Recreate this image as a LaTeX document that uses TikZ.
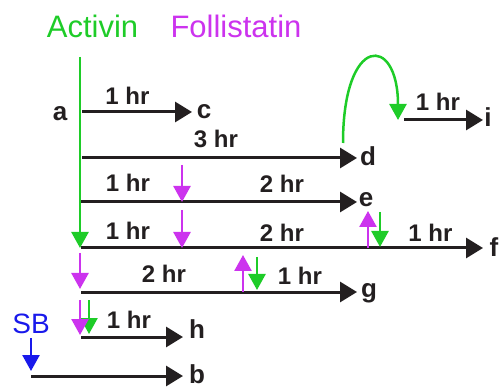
\documentclass[tikz,border=0pt]{standalone}
\usepackage{fontspec}
\setmainfont{Liberation Sans}
\usetikzlibrary{arrows.meta}
\definecolor{actgreen}{RGB}{30,204,40}
\definecolor{follmag}{RGB}{204,51,238}
\definecolor{sbblue}{RGB}{25,25,235}
\definecolor{ink}{RGB}{35,31,32}
\tikzset{
  timeline/.style={draw=ink, line width=3pt, -{Triangle[length=17pt,width=20pt]}},
  cue/.style={line width=2.5pt, -{Triangle[length=16pt,width=17pt]}},
  actcue/.style={cue, draw=actgreen},
  follcue/.style={cue, draw=follmag},
  sbcue/.style={cue, draw=sbblue},
  hrs/.style={font=\fontsize{24}{24}\selectfont\bfseries, text=ink, inner sep=0pt, anchor=base},
  tag/.style={font=\fontsize{26}{26}\selectfont\bfseries, text=ink, inner sep=0pt, anchor=base},
  factor/.style={font=\fontsize{31}{31}\selectfont, inner sep=0pt, anchor=base},
}
\begin{document}
\begin{tikzpicture}[x=1pt,y=-1pt]
\useasboundingbox (0,0) rectangle (503,387);

% factor names
\node[factor, text=actgreen] (activin) at (92.5,38) {Activin};
\node[factor, text=follmag] (follistatin) at (236,38) {Follistatin};
\node[factor, text=sbblue, font=\fontsize{28}{28}\selectfont] (sb) at (31,333) {SB};

% condition letters
\node[tag] (a) at (60,121) {a};
\node[tag] (c) at (204,119) {c};
\node[tag] (d) at (368,166) {d};
\node[tag] (i) at (488,127) {i};
\node[tag] (e) at (366,207) {e};
\node[tag] (f) at (494,257) {f};
\node[tag] (g) at (369,297) {g};
\node[tag] (h) at (197,338) {h};
\node[tag] (b) at (197,383) {b};

% line end points
\coordinate (c0) at (82,112);  \coordinate (c1) at (192,112);
\coordinate (d0) at (82,158);  \coordinate (d1) at (357,158);
\coordinate (i0) at (404,120); \coordinate (i1) at (483,120);
\coordinate (e0) at (81,202);  \coordinate (e1) at (357,202);
\coordinate (f0) at (81,248);  \coordinate (f1) at (483,248);
\coordinate (g0) at (81,292);  \coordinate (g1) at (357,292);
\coordinate (h0) at (81,337);  \coordinate (h1) at (183,337);
\coordinate (b0) at (31,376);  \coordinate (b1) at (183,376);

% time lines
\draw[timeline] (c0) -- (c1);
\draw[timeline] (d0) -- (d1);
\draw[timeline] (i0) -- (i1);
\draw[timeline] (e0) -- (e1);
\draw[timeline] (f0) -- (f1);
\draw[timeline] (g0) -- (g1);
\draw[timeline] (h0) -- (h1);
\draw[timeline] (b0) -- (b1);

% durations
\node[hrs] (hc) at (127.5,105) {1 hr};
\node[hrs] (hd) at (216,148) {3 hr};
\node[hrs] (hi) at (438,111) {1 hr};
\node[hrs] (he1) at (128,192) {1 hr};
\node[hrs] (he2) at (282,193) {2 hr};
\node[hrs] (hf1) at (128,240) {1 hr};
\node[hrs] (hf2) at (282,242) {2 hr};
\node[hrs] (hf3) at (430.5,242) {1 hr};
\node[hrs] (hg1) at (164,283) {2 hr};
\node[hrs] (hg2) at (300,284) {1 hr};
\node[hrs] (hh) at (129,328) {1 hr};

% activin additions
\coordinate (act0) at (80,57);   \coordinate (act1) at (80,248);
\draw[actcue] (act0) -- (act1);
\coordinate (arc0) at (343,143); \coordinate (arc1) at (398,120);
\draw[actcue] (arc0) .. controls (343,34) and (398,34) .. (arc1);
\coordinate (af0) at (380,212);  \coordinate (af1) at (380,247);
\draw[actcue] (af0) -- (af1);
\coordinate (ag0) at (257,257);  \coordinate (ag1) at (257,290);
\draw[actcue] (ag0) -- (ag1);
\coordinate (ah0) at (89,300);   \coordinate (ah1) at (89,334);
\draw[actcue] (ah0) -- (ah1);

% follistatin additions and removals
\coordinate (fe0) at (182,165);  \coordinate (fe1) at (182,202);
\draw[follcue] (fe0) -- (fe1);
\coordinate (ff0) at (182,210);  \coordinate (ff1) at (182,248);
\draw[follcue] (ff0) -- (ff1);
\coordinate (fg0) at (80,253);   \coordinate (fg1) at (80,289);
\draw[follcue] (fg0) -- (fg1);
\coordinate (fu0) at (243,292);  \coordinate (fu1) at (243,255);
\draw[follcue] (fu0) -- (fu1);
\coordinate (fv0) at (368,248);  \coordinate (fv1) at (368,211);
\draw[follcue] (fv0) -- (fv1);
\coordinate (fh0) at (80,300);   \coordinate (fh1) at (80,335);
\draw[follcue] (fh0) -- (fh1);

% SB addition
\coordinate (sb0) at (31,338);   \coordinate (sb1) at (31,371);
\draw[sbcue] (sb0) -- (sb1);
\end{tikzpicture}
\end{document}
